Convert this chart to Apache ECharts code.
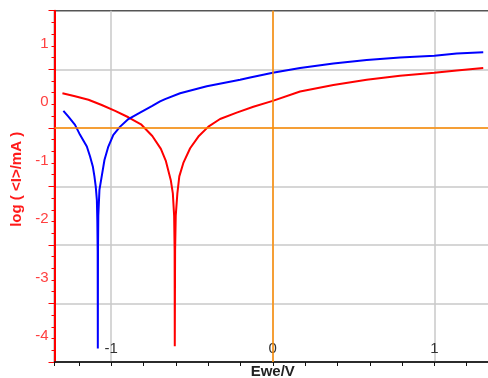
<!DOCTYPE html>
<html>
<head>
<meta charset="utf-8">
<script src="https://cdn.jsdelivr.net/npm/echarts@6/dist/echarts.min.js"></script>
<style>
  html, body { margin: 0; padding: 0; background: #fff; }
  #chart { width: 488px; height: 378px; }
</style>
</head>
<body>
<div id="chart"></div>
<script>
// potential (V) and log current
const blueE = [-1.295, -1.264, -1.223, -1.192, -1.150, -1.130, -1.113, -1.103, -1.095, -1.088,
  -1.085, -1.083, -1.082, -1.081, -1.079, -1.072, -1.058, -1.041, -1.017, -0.986,
  -0.944, -0.893, -0.821, -0.748, -0.697, -0.666, -0.573, -0.408, -0.202, -0.140,
  0, 0.169, 0.375, 0.581, 0.787, 1.0, 1.138, 1.302]
const blueLog = [-0.21, -0.31, -0.45, -0.62, -0.82, -0.99, -1.16, -1.33, -1.50, -1.73,
  -2.1, -2.6, -4.27, -2.6, -2.0, -1.56, -1.33, -1.05, -0.82, -0.62,
  -0.48, -0.35, -0.24, -0.13, -0.05, -0.01, 0.09, 0.21, 0.32, 0.36,
  0.44, 0.52, 0.60, 0.66, 0.70, 0.73, 0.77, 0.79]

const redE = [-1.301, -1.223, -1.140, -1.058, -0.975, -0.893, -0.815, -0.745, -0.692, -0.662,
  -0.631, -0.618, -0.610, -0.607, -0.606, -0.604, -0.600, -0.590, -0.578, -0.553,
  -0.511, -0.460, -0.398, -0.326, -0.223, -0.120, 0, 0.169, 0.375, 0.581,
  0.787, 1.0, 1.138, 1.302]
const redLog = [0.09, 0.04, -0.02, -0.11, -0.21, -0.32, -0.44, -0.64, -0.86, -1.06,
  -1.39, -1.62, -2.0, -2.6, -4.23, -2.6, -2.0, -1.62, -1.33, -1.10,
  -0.85, -0.65, -0.48, -0.35, -0.24, -0.14, -0.04, 0.12, 0.23, 0.32,
  0.39, 0.44, 0.48, 0.52]

// cursor lines
const cursorX = [0]
const cursorY = [-0.5]

const xMin = -1.35, xMax = 1.35
const yMin = -4.5, yMax = 1.5

const zip = (xs, ys) => xs.map((x, i) => [x, ys[i]])
const intOnly = v => (Math.abs(v - Math.round(v)) < 1e-6 ? String(Math.round(v)) : '')

const chart = echarts.init(document.getElementById('chart'))
chart.setOption({
  animation: false,
  grid: {
    left: 54.5,
    top: 10.7,
    right: -3,
    bottom: 16,
    outerBoundsMode: 'none',
    containLabel: false,
    show: true,
    borderColor: '#555',
    borderWidth: 1.5
  },
  xAxis: [
    {
      // tick axis, 0.2 V steps
      type: 'value',
      position: 'bottom',
      min: xMin,
      max: xMax,
      minInterval: 0.2,
      maxInterval: 0.2,
      axisLine: { onZero: false, lineStyle: { color: '#111', width: 1.5 } },
      axisTick: { length: 4, lineStyle: { color: '#111' } },
      axisLabel: { show: false },
      splitLine: { show: false }
    },
    {
      // label + grid axis, 1 V steps
      type: 'value',
      position: 'bottom',
      min: xMin,
      max: xMax,
      minInterval: 1,
      maxInterval: 1,
      name: 'Ewe/V',
      nameLocation: 'middle',
      nameGap: 10,
      nameMoveOverlap: false,
      nameTextStyle: {
        fontFamily: 'Liberation Sans', fontWeight: 'bold', fontSize: 15, color: '#222',
        verticalAlign: 'middle', lineHeight: 15
      },
      axisLine: { show: false, onZero: false },
      axisTick: { show: false },
      axisLabel: {
        inside: true,
        margin: 6,
        fontFamily: 'Liberation Sans',
        fontSize: 15,
        color: '#333',
        formatter: intOnly
      },
      splitLine: { show: true, showMinLine: false, showMaxLine: false, lineStyle: { color: '#c8c8c8', width: 1.5 } }
    }
  ],
  yAxis: [
    {
      // ticks and grid at half units
      type: 'value',
      position: 'left',
      min: yMin,
      max: yMax,
      interval: 1,
      axisLine: { onZero: false, lineStyle: { color: '#ff0000', width: 2 } },
      axisTick: { length: 6, lineStyle: { color: '#ff0000' } },
      minorTick: { show: true, splitNumber: 5, length: 3, lineStyle: { color: '#ff0000' } },
      axisLabel: { show: false },
      splitLine: { show: true, showMinLine: false, showMaxLine: false, lineStyle: { color: '#c8c8c8', width: 1.5 } }
    },
    {
      // labels at whole units
      type: 'value',
      position: 'left',
      min: yMin,
      max: yMax,
      minInterval: 1,
      maxInterval: 1,
      name: 'log ( <I>/mA )',
      nameLocation: 'middle',
      nameGap: 30,
      nameMoveOverlap: false,
      nameTextStyle: {
        fontFamily: 'Liberation Sans', fontWeight: 'bold', fontSize: 15, color: '#ff1a1a',
        padding: [0, 0, 0, 14]
      },
      axisLine: { show: false, onZero: false },
      axisTick: { show: false },
      axisLabel: {
        margin: 6,
        fontFamily: 'Liberation Sans',
        fontSize: 15,
        color: '#ff4040',
        verticalAlign: 'top',
        lineHeight: 15,
        padding: [-4, 0, 0, 0],
        formatter: intOnly
      },
      splitLine: { show: false }
    }
  ],
  series: [
    {
      type: 'line',
      xAxisIndex: 0,
      yAxisIndex: 0,
      data: zip(redE, redLog),
      showSymbol: false,
      lineStyle: { color: '#ff0000', width: 2 },
      markLine: {
        silent: true,
        symbol: 'none',
        label: { show: false },
        lineStyle: { color: '#ff8c00', type: 'solid', width: 1.5 },
        data: cursorX.map(v => ({ xAxis: v })).concat(cursorY.map(v => ({ yAxis: v })))
      }
    },
    {
      type: 'line',
      xAxisIndex: 0,
      yAxisIndex: 0,
      data: zip(blueE, blueLog),
      showSymbol: false,
      lineStyle: { color: '#0000ff', width: 2 }
    }
  ]
})
</script>
</body>
</html>
